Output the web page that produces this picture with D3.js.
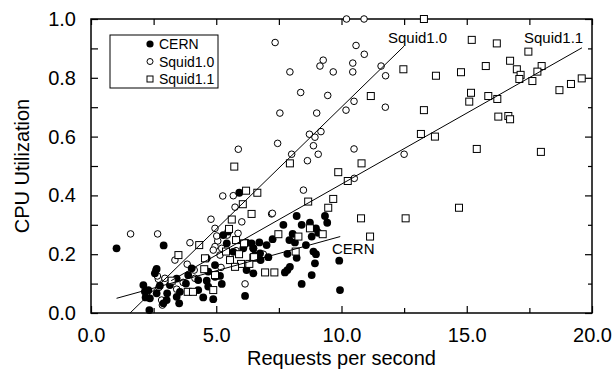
<!DOCTYPE html>
<html>
<head>
<meta charset="utf-8">
<script src="https://cdn.jsdelivr.net/npm/d3@7"></script>
<style>
  body { margin: 0; background: #fff; }
  svg text { font-family: "Liberation Sans", Arial, sans-serif; fill: #000; }
</style>
</head>
<body>
<div id="chart"></div>
<script>
// CERN (filled circles) [requests/s, cpu]
const cern = [
  [1.02, 0.22], [2.90, 0.23], [2.62, 0.15], [2.55, 0.135], [2.09, 0.095], [2.29, 0.078],
  [2.18, 0.053], [2.35, 0.05], [2.33, 0.01], [2.62, 0.067], [3.04, 0.067], [2.75, 0.093],
  [3.79, 0.10], [3.55, 0.072], [3.42, 0.055], [3.52, 0.033], [4.28, 0.078], [4.48, 0.053],
  [4.68, 0.09], [4.62, 0.11], [4.88, 0.047], [4.95, 0.123], [5.22, 0.099], [5.15, 0.126],
  [5.42, 0.237], [5.28, 0.265], [5.48, 0.277], [5.68, 0.208], [6.08, 0.22], [6.21, 0.239],
  [6.48, 0.22], [6.54, 0.197], [6.21, 0.146], [6.48, 0.135], [6.15, 0.058], [4.95, 0.163],
  [4.62, 0.186], [4.02, 0.152], [4.68, 0.141], [4.28, 0.112], [3.88, 0.129], [3.42, 0.117],
  [3.15, 0.095], [2.15, 0.073], [3.02, 0.044], [2.89, 0.033], [5.92, 0.409],
  [8.21, 0.33], [9.34, 0.33], [9.43, 0.307], [7.68, 0.30], [8.41, 0.30], [8.74, 0.307],
  [8.98, 0.288], [9.07, 0.273], [8.81, 0.26], [8.05, 0.269], [7.92, 0.248], [8.14, 0.24],
  [8.58, 0.231], [7.25, 0.251], [7.01, 0.231], [6.72, 0.24], [6.41, 0.237], [6.48, 0.22],
  [6.75, 0.203], [7.08, 0.19], [6.77, 0.18], [7.84, 0.201], [8.21, 0.188], [8.88, 0.209],
  [8.98, 0.20], [9.91, 0.178], [8.94, 0.169], [7.94, 0.157], [7.84, 0.146], [7.74, 0.138],
  [8.81, 0.129], [8.41, 0.099], [9.94, 0.078]
];

// Squid1.0 (open circles)
const squid10 = [
  [10.2, 1.0], [10.9, 1.0], [7.35, 0.92], [10.58, 0.91], [10.91, 0.88], [9.27, 0.86],
  [9.14, 0.84], [10.45, 0.85], [7.94, 0.82], [9.67, 0.82], [10.45, 0.82], [11.58, 0.84],
  [11.76, 0.807], [8.37, 0.75], [9.45, 0.74], [10.5, 0.72], [7.54, 0.68], [9.01, 0.68],
  [10.18, 0.69], [11.75, 0.70], [8.72, 0.608], [9.18, 0.617], [8.94, 0.598], [7.45, 0.577],
  [8.88, 0.569], [8.01, 0.54], [9.07, 0.54], [8.64, 0.518], [10.5, 0.558], [12.5, 0.54],
  [10.51, 0.458], [8.48, 0.418], [7.21, 0.337], [5.88, 0.557],
  [5.26, 0.398], [5.68, 0.399], [5.75, 0.36], [6.02, 0.31], [7.24, 0.339], [5.87, 0.271],
  [5.44, 0.265], [5.79, 0.212], [5.22, 0.22], [6.88, 0.20], [6.15, 0.099],
  [1.58, 0.269], [2.66, 0.269], [4.79, 0.319], [5.06, 0.245], [3.95, 0.239], [4.95, 0.226],
  [3.35, 0.18], [3.84, 0.166], [4.12, 0.146], [2.69, 0.115], [2.95, 0.118], [2.71, 0.087],
  [3.68, 0.104], [4.15, 0.118], [3.42, 0.081], [2.22, 0.061], [2.82, 0.044], [2.85, 0.027],
  [2.59, 0.146], [2.65, 0.126], [4.88, 0.214], [5.02, 0.262], [5.15, 0.197], [5.19, 0.155],
  [4.95, 0.288]
];

// Squid1.1 (open squares)
const squid11 = [
  [13.29, 1.0], [12.47, 0.829], [11.17, 0.738], [13.29, 0.69], [15.2, 0.929], [16.2, 0.917],
  [17.46, 0.889], [16.73, 0.858], [17.0, 0.829], [17.15, 0.81], [17.1, 0.796], [17.99, 0.84],
  [17.82, 0.821], [17.62, 0.789], [15.76, 0.84], [14.77, 0.819], [13.77, 0.807], [19.59, 0.798],
  [19.16, 0.779], [18.7, 0.758], [15.17, 0.749], [15.1, 0.719], [15.86, 0.738], [16.22, 0.728],
  [16.26, 0.668], [16.66, 0.67], [16.73, 0.659], [13.17, 0.609], [13.73, 0.6], [15.4, 0.558],
  [17.96, 0.548], [14.69, 0.358],
  [10.8, 0.509], [9.87, 0.479], [10.25, 0.449], [7.94, 0.509], [6.64, 0.409], [8.67, 0.379],
  [9.67, 0.388], [9.47, 0.358], [6.41, 0.337], [10.78, 0.322], [12.56, 0.322], [11.14, 0.26],
  [7.48, 0.268], [8.28, 0.26], [8.74, 0.288], [9.25, 0.268], [8.17, 0.209], [6.48, 0.188],
  [6.95, 0.138], [7.32, 0.138],
  [5.72, 0.498], [6.19, 0.416], [6.06, 0.37], [5.62, 0.318], [5.51, 0.286], [5.79, 0.248],
  [6.11, 0.237], [5.39, 0.209], [5.91, 0.20], [6.51, 0.19], [5.55, 0.18], [6.32, 0.167],
  [5.99, 0.167], [5.75, 0.157], [4.32, 0.231], [3.49, 0.197], [4.55, 0.186], [4.52, 0.149],
  [4.95, 0.129], [3.22, 0.11], [3.86, 0.072], [4.07, 0.072], [4.88, 0.078]
];

// fitted lines, endpoints
const cernFit = [[1.02, 0.05], [9.95, 0.26]];
const squid10Fit = [[1.56, 0.0], [12.5, 0.908]];
const squid11Fit = [[3.2, 0.11], [19.6, 0.902]];

const xMajor = [0, 5, 10, 15, 20];
const xMinor = [2.5, 7.5, 12.5, 17.5];
const yMajor = [0, 0.2, 0.4, 0.6, 0.8, 1.0];
const yMinor = [0.1, 0.3, 0.5, 0.7, 0.9];

const width = 616, height = 371;
const margin = { left: 91, right: 592, top: 19, bottom: 313 };

const svg = d3.select("#chart").append("svg")
    .attr("width", width)
    .attr("height", height);

const x = d3.scaleLinear().domain([0, 20]).range([margin.left, margin.right]);
const y = d3.scaleLinear().domain([0, 1]).range([margin.bottom, margin.top]);

// axes, ticks pointing inward on all four sides
const fmt = d3.format(".1f");
function tidy(g) {
    g.select(".domain").remove();
    g.selectAll(".tick line").attr("stroke", "#000").attr("stroke-width", 1.2);
    g.selectAll(".tick text").style("font-size", "20px").attr("fill", "#000");
}

svg.append("g")
    .attr("transform", `translate(0,${margin.bottom})`)
    .call(d3.axisBottom(x).tickValues(xMajor).tickFormat(fmt).tickSize(-7).tickPadding(10))
    .call(tidy)
    .selectAll(".tick text").attr("dy", "0.95em");
svg.append("g")
    .attr("transform", `translate(0,${margin.bottom})`)
    .call(d3.axisBottom(x).tickValues(xMinor).tickFormat("").tickSize(-5))
    .call(tidy);
svg.append("g")
    .attr("transform", `translate(0,${margin.top})`)
    .call(d3.axisTop(x).tickValues(xMajor.concat(xMinor)).tickFormat("").tickSize(-6))
    .call(tidy);

svg.append("g")
    .attr("transform", `translate(${margin.left},0)`)
    .call(d3.axisLeft(y).tickValues(yMajor).tickFormat(fmt).tickSize(-7).tickPadding(15))
    .call(tidy);
svg.append("g")
    .attr("transform", `translate(${margin.left},0)`)
    .call(d3.axisLeft(y).tickValues(yMinor).tickFormat("").tickSize(-7))
    .call(tidy);
svg.append("g")
    .attr("transform", `translate(${margin.right},0)`)
    .call(d3.axisRight(y).tickValues(yMajor).tickFormat("").tickSize(-7))
    .call(tidy);
svg.append("g")
    .attr("transform", `translate(${margin.right},0)`)
    .call(d3.axisRight(y).tickValues(yMinor).tickFormat("").tickSize(-4))
    .call(tidy);

// frame
svg.append("rect")
    .attr("x", margin.left).attr("y", margin.top)
    .attr("width", margin.right - margin.left).attr("height", margin.bottom - margin.top)
    .attr("fill", "none")
    .attr("stroke", "#000")
    .attr("stroke-width", 1.5);

// axis titles
svg.append("text")
    .attr("x", (margin.left + margin.right) / 2)
    .attr("y", 365)
    .attr("text-anchor", "middle")
    .style("font-size", "20px")
    .text("Requests per second");
svg.append("text")
    .attr("transform", `translate(29,${(margin.top + margin.bottom) / 2}) rotate(-90)`)
    .attr("text-anchor", "middle")
    .style("font-size", "20px")
    .text("CPU Utilization");

// points: open circles first, filled CERN over them, squares on top
const r = 3.6;
svg.append("g").selectAll("circle")
    .data(squid10)
    .enter().append("circle")
    .attr("cx", d => x(d[0]))
    .attr("cy", d => y(d[1]))
    .attr("r", r - 0.3)
    .attr("fill", "#fff")
    .attr("stroke", "#000")
    .attr("stroke-width", 1);

svg.append("g").selectAll("circle")
    .data(cern)
    .enter().append("circle")
    .attr("cx", d => x(d[0]))
    .attr("cy", d => y(d[1]))
    .attr("r", 3.9)
    .attr("fill", "#000");

const s = 7;
svg.append("g").selectAll("rect")
    .data(squid11)
    .enter().append("rect")
    .attr("x", d => x(d[0]) - s / 2)
    .attr("y", d => y(d[1]) - s / 2)
    .attr("width", s)
    .attr("height", s)
    .attr("fill", "#fff")
    .attr("stroke", "#000")
    .attr("stroke-width", 1);

// fit lines
const line = d3.line().x(d => x(d[0])).y(d => y(d[1]));
[cernFit, squid10Fit, squid11Fit].forEach(f => {
    svg.append("path")
        .datum(f)
        .attr("d", line)
        .attr("fill", "none")
        .attr("stroke", "#000")
        .attr("stroke-width", 1);
});

// line labels
svg.append("text").attr("x", 388).attr("y", 43).style("font-size", "15px").text("Squid1.0");
svg.append("text").attr("x", 524).attr("y", 43).style("font-size", "15px").text("Squid1.1");
svg.append("text").attr("x", 332).attr("y", 254).style("font-size", "15px").text("CERN");

// legend
const legend = svg.append("g");
legend.append("rect")
    .attr("x", 110).attr("y", 35)
    .attr("width", 108).attr("height", 53)
    .attr("fill", "#fff")
    .attr("stroke", "#000")
    .attr("stroke-width", 1);
const legendItems = ["CERN", "Squid1.0", "Squid1.1"];
legendItems.forEach((name, i) => {
    const cy = 44 + i * 17.5;
    if (i === 0) {
        legend.append("circle").attr("cx", 150).attr("cy", cy).attr("r", 3.6).attr("fill", "#000");
    } else if (i === 1) {
        legend.append("circle").attr("cx", 150).attr("cy", cy).attr("r", 3)
            .attr("fill", "#fff").attr("stroke", "#000");
    } else {
        legend.append("rect").attr("x", 147).attr("y", cy - 3).attr("width", 6).attr("height", 6)
            .attr("fill", "#fff").attr("stroke", "#000");
    }
    legend.append("text")
        .attr("x", 159).attr("y", cy + 5)
        .style("font-size", "14px")
        .text(name);
});
</script>
</body>
</html>
